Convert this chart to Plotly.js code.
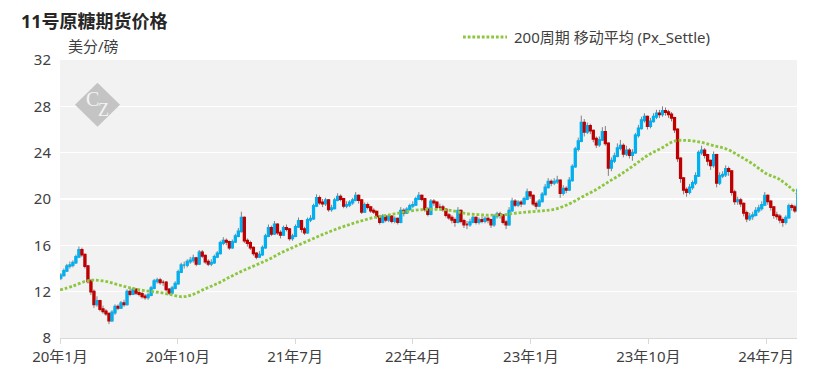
<!DOCTYPE html>
<html>
<head>
<meta charset="utf-8">
<script src="https://cdn.plot.ly/plotly-3.0.1.min.js"></script>
<style>
html,body{margin:0;padding:0;background:#fff;}
#chart{width:822px;height:389px;}
</style>
</head>
<body>
<div id="chart"></div>
<script>
// ---- data (weekly bars, Friday dates starting 2020-01-03) ----
const firstWeek = [2020, 0, 3];
const firstOpen = 13.2;

const close2020 = [13.4,13.8,14.2,14.3,14.5,15.0,15.6,15.2,14.2,12.9,12.0,10.9,11.2,10.5,10.3,10.1,9.5,10.2,10.7,10.6,11.0,10.9,12.0,11.8,12.2,11.9,11.8,11.6,11.5,11.7,12.3,12.9,13.0,12.8,12.8,12.2,11.9,12.3,12.7,13.7,14.3,14.3,14.6,14.7,14.9,14.4,15.4,15.1,14.6,14.4,14.5,15.0];
const high2020  = [13.6,14.0,14.4,14.6,14.7,15.2,15.9,15.8,15.3,14.3,13.1,12.2,11.6,11.3,10.8,10.5,10.2,10.4,10.9,10.9,11.2,11.3,12.2,12.3,12.4,12.3,12.1,12.0,11.8,11.9,12.5,13.1,13.2,13.2,13.0,12.9,12.3,12.5,12.9,13.9,14.5,14.6,14.8,15.0,15.2,15.0,15.6,15.6,15.2,14.8,14.8,15.2];
const low2020   = [13.0,13.3,13.7,14.0,14.1,14.4,14.9,15.0,14.0,12.7,11.7,10.6,10.7,10.3,10.1,9.9,9.2,9.4,10.0,10.4,10.5,10.7,10.8,11.6,11.7,11.7,11.6,11.4,11.3,11.3,11.6,12.2,12.7,12.6,12.5,12.0,11.7,11.8,12.2,12.6,13.6,14.0,14.1,14.4,14.5,14.2,14.3,14.9,14.4,14.2,14.2,14.4];

const close2021 = [15.3,16.2,16.4,16.3,15.8,16.3,16.8,17.2,18.4,16.4,16.2,15.8,15.3,15.0,15.2,15.8,16.8,17.5,17.0,17.8,17.1,16.9,17.5,17.4,16.6,16.8,17.6,18.1,17.4,17.1,18.2,18.3,19.4,20.1,19.7,19.6,19.9,19.1,19.2,19.9,20.2,20.0,19.4,19.5,19.7,19.9,20.3,19.9,18.9,19.5,19.3,19.0,18.9];
const high2021  = [15.5,16.4,16.7,16.6,16.4,16.5,17.0,17.5,18.9,18.5,16.6,16.4,15.9,15.4,15.5,16.0,17.0,17.8,17.7,18.1,17.9,17.3,17.7,17.8,17.5,17.0,17.8,18.4,18.2,17.6,18.4,18.6,19.6,20.4,20.3,20.0,20.1,20.0,19.5,20.1,20.5,20.4,20.1,19.8,19.9,20.1,20.6,20.4,20.0,19.7,19.7,19.4,19.2];
const low2021   = [14.9,15.2,16.0,16.0,15.6,15.7,16.2,16.7,17.1,16.2,15.9,15.6,15.1,14.8,14.9,15.1,15.7,16.7,16.8,16.9,16.9,16.6,16.8,17.2,16.4,16.4,16.7,17.5,17.1,16.9,17.0,18.0,18.2,19.3,19.5,19.3,19.4,18.9,18.9,19.1,19.8,19.8,19.2,19.2,19.3,19.5,19.8,19.6,18.7,18.8,19.1,18.8,18.7];

const close2022 = [18.5,18.0,18.5,18.2,18.5,18.1,18.3,18.0,19.0,18.8,19.1,19.4,19.5,20.0,20.3,20.0,19.1,18.7,19.8,19.7,19.3,19.3,19.1,18.6,18.4,18.2,18.0,19.0,18.1,17.8,17.8,18.0,18.4,18.0,18.2,18.1,18.3,18.2,17.8,18.5,18.7,18.6,18.0,17.8,19.0,19.8,19.5,19.7,19.6,20.0,20.6,20.3];
const high2022  = [19.0,18.6,18.7,18.6,18.7,18.6,18.5,18.4,19.3,19.2,19.3,19.6,19.8,20.2,20.6,20.4,20.1,19.3,20.0,20.0,19.8,19.6,19.5,19.2,18.8,18.6,18.4,19.3,19.1,18.3,18.1,18.3,18.6,18.5,18.4,18.5,18.5,18.5,18.3,18.7,18.9,18.9,18.7,18.2,19.3,20.1,20.0,19.9,19.9,20.2,20.9,20.7];
const low2022   = [18.3,17.8,17.9,18.0,18.0,17.9,17.9,17.8,17.9,18.5,18.7,19.0,19.2,19.4,19.9,19.8,18.9,18.5,18.6,19.4,19.1,19.1,18.9,18.4,18.2,17.9,17.6,17.9,17.9,17.5,17.4,17.6,17.9,17.8,17.8,17.9,17.9,17.9,17.5,17.6,18.3,18.3,17.8,17.4,17.7,18.9,19.3,19.3,19.3,19.5,19.9,20.0];

const close2023 = [19.6,19.4,19.8,20.4,21.0,21.5,21.4,21.5,21.6,20.5,20.9,20.8,21.6,22.8,24.3,25.0,26.6,25.8,26.3,25.9,25.2,24.7,25.1,25.8,24.8,22.7,23.3,23.7,24.4,24.6,23.9,24.2,23.8,24.0,25.5,26.1,26.8,27.1,26.3,26.7,27.1,27.4,27.3,27.6,27.5,27.3,27.0,26.0,23.5,21.8,20.8,20.6];
const high2023  = [20.4,19.8,20.0,20.6,21.3,21.8,21.7,21.8,22.0,21.7,21.2,21.1,21.9,23.0,24.5,25.3,27.2,26.9,26.6,26.5,26.0,25.4,25.4,26.2,26.3,24.9,23.6,24.0,24.8,25.1,24.8,24.6,24.4,24.3,25.7,26.4,27.1,27.4,27.2,27.0,27.4,27.7,27.7,28.0,27.9,27.7,27.5,27.1,26.1,23.6,21.9,21.0];
const low2023   = [19.4,19.1,19.3,19.7,20.3,20.9,21.1,21.2,21.3,20.1,20.3,20.5,20.7,21.5,22.7,24.1,24.9,25.4,25.6,25.6,24.9,24.4,24.5,25.0,24.6,22.0,22.4,23.1,23.6,24.2,23.6,23.7,23.5,23.3,23.9,25.3,26.0,26.6,26.0,26.1,26.6,26.9,27.0,27.1,27.2,27.0,26.7,25.7,23.2,21.4,20.4,20.2];

const close2024 = [21.0,21.4,22.0,24.0,24.2,23.8,23.3,22.9,23.8,21.4,22.0,22.1,22.6,22.4,20.6,19.8,19.9,19.6,18.8,18.3,18.5,18.6,19.0,19.2,19.5,20.3,19.8,19.3,18.6,18.5,18.2,18.0,18.4,19.4,19.3,19.0,20.8];
const high2024  = [21.3,21.6,22.3,24.2,24.6,24.4,23.9,23.4,24.1,23.9,22.3,22.4,22.9,22.8,22.5,20.8,20.2,20.1,19.7,19.0,18.8,18.9,19.3,19.5,19.8,20.6,20.4,19.9,19.4,18.9,18.7,18.4,18.6,19.6,19.6,19.5,21.3];
const low2024   = [20.4,20.8,21.2,21.9,23.8,23.5,22.9,22.5,22.7,21.0,21.2,21.8,21.9,22.0,20.3,19.5,19.5,19.3,18.5,18.0,18.1,18.2,18.5,18.8,19.0,19.4,19.5,19.0,18.3,18.2,17.9,17.6,17.8,18.3,19.0,18.8,18.9];

// 200-period moving average
const maDates = ['2020-01-01','2020-02-01','2020-03-01','2020-03-20','2020-04-15','2020-05-15','2020-06-15','2020-07-15','2020-08-15','2020-09-15','2020-10-10','2020-11-01','2020-12-01',
  '2021-01-01','2021-02-01','2021-03-01','2021-04-01','2021-05-01','2021-06-01','2021-07-01','2021-08-01','2021-09-01','2021-10-01','2021-11-01','2021-12-01',
  '2022-01-01','2022-02-01','2022-03-01','2022-04-01','2022-05-01','2022-06-01','2022-07-01','2022-08-01','2022-09-01','2022-10-01','2022-11-01','2022-12-01',
  '2023-01-01','2023-02-01','2023-03-01','2023-04-01','2023-05-01','2023-06-01','2023-07-01','2023-08-01','2023-09-01','2023-10-01','2023-11-01','2023-12-01',
  '2024-01-01','2024-02-01','2024-03-01','2024-04-01','2024-05-01','2024-06-01','2024-07-01','2024-08-01','2024-09-10'];
const maValues = [12.15,12.5,12.9,13.0,12.9,12.6,12.3,12.1,11.95,11.75,11.56,11.7,12.2,
  12.7,13.3,13.8,14.3,14.8,15.4,15.9,16.4,16.9,17.35,17.75,18.1,
  18.4,18.6,18.8,19.0,19.1,19.1,19.0,18.75,18.65,18.6,18.65,18.8,
  18.9,19.0,19.15,19.6,20.2,20.8,21.5,22.2,23.0,23.8,24.4,25.0,
  25.05,24.9,24.6,24.3,23.7,23.0,22.2,21.7,20.5];

const tickDates = ['2020-01-01','2020-10-01','2021-07-01','2022-04-01','2023-01-01','2023-10-01','2024-07-01'];
const tickLabels = ['20年1月','20年10月','21年7月','22年4月','23年1月','23年10月','24年7月'];

const titleText = '11号原糖期货价格';
const unitText = '美分/磅';
const legendText = '200周期 移动平均 (Px_Settle)';

// ---- assemble ----
const close = [].concat(close2020, close2021, close2022, close2023, close2024);
const high = [].concat(high2020, high2021, high2022, high2023, high2024);
const low = [].concat(low2020, low2021, low2022, low2023, low2024);
const open = [firstOpen].concat(close.slice(0, -1));
const dates = close.map((_, i) => new Date(Date.UTC(firstWeek[0], firstWeek[1], firstWeek[2] + 7 * i)).toISOString().slice(0, 10));
const bodyHigh = close.map((c, i) => Math.max(c, open[i]));
const bodyLow = close.map((c, i) => Math.min(c, open[i]));

const FONT = 'Noto Sans, Noto Sans CJK SC, sans-serif';
const BLUE = '#00b0f0', RED = '#c00000', GREY = '#808080', GREEN = '#8cc63e';

const wicks = {
  type: 'candlestick', x: dates, open: open, high: high, low: low, close: close,
  increasing: {line: {color: GREY, width: 1}, fillcolor: GREY},
  decreasing: {line: {color: GREY, width: 1}, fillcolor: GREY},
  showlegend: false, hoverinfo: 'skip'
};
const bodies = {
  type: 'candlestick', x: dates, open: open, high: bodyHigh, low: bodyLow, close: close,
  increasing: {line: {color: BLUE, width: 1.8}, fillcolor: BLUE},
  decreasing: {line: {color: RED, width: 1.8}, fillcolor: RED},
  showlegend: false
};
const ma = {
  type: 'scatter', mode: 'lines', x: maDates, y: maValues,
  line: {color: GREEN, width: 2.8, dash: '2.8px,1.9px', shape: 'spline'},
  showlegend: false
};

// pixel -> paper helpers for the fixed decorations
const L = 60, R = 797, T = 60, B = 338;
const px = v => (v - L) / (R - L);
const py = v => (B - v) / (B - T);

const layout = {
  width: 822, height: 389,
  margin: {l: L, r: 822 - R, t: T, b: 389 - B},
  paper_bgcolor: '#ffffff', plot_bgcolor: '#f2f2f2',
  font: {family: FONT, size: 15, color: '#404040'},
  title: {text: '<b>' + titleText + '</b>', font: {family: FONT, size: 18, color: '#262626'},
          xref: 'container', yref: 'container', x: 21 / 822, xanchor: 'left', y: 1 - 22 / 389, yanchor: 'middle'},
  xaxis: {
    type: 'date', range: ['2020-01-01', '2024-09-11'],
    rangeslider: {visible: false},
    tickvals: tickDates, ticktext: tickLabels,
    showgrid: false, zeroline: false,
    showline: true, linecolor: '#d9d9d9', linewidth: 1,
    ticks: 'outside', ticklen: 5, tickcolor: '#d9d9d9',
    tickfont: {family: FONT, size: 15, color: '#404040'}
  },
  yaxis: {
    range: [8, 32], tickvals: [8, 12, 16, 20, 24, 28, 32],
    showgrid: true, gridcolor: '#ffffff', gridwidth: 1.5,
    zeroline: false, showline: false, ticks: '', ticklabelstandoff: 8,
    tickfont: {family: FONT, size: 15, color: '#404040'}
  },
  shapes: [
    {type: 'path', xref: 'paper', yref: 'paper', layer: 'above',
     path: 'M' + px(75) + ',' + py(104.7) + ' L' + px(97.5) + ',' + py(82.7) + ' L' + px(120) + ',' + py(104.7) + ' L' + px(97.5) + ',' + py(126.7) + ' Z',
     fillcolor: '#c4c4c4', line: {width: 0}},
    {type: 'line', xref: 'paper', yref: 'paper', x0: px(463), x1: px(507), y0: py(37), y1: py(37),
     line: {color: GREEN, width: 2.8, dash: '2.8px,1.9px'}}
  ],
  annotations: [
    {text: unitText, xref: 'paper', yref: 'paper', x: px(66), y: py(46), xanchor: 'left', yanchor: 'middle',
     showarrow: false, font: {family: FONT, size: 15, color: '#404040'}},
    {text: legendText, xref: 'paper', yref: 'paper', x: px(512), y: py(37), xanchor: 'left', yanchor: 'middle',
     showarrow: false, font: {family: FONT, size: 15, color: '#404040'}},
    {text: 'C', xref: 'paper', yref: 'paper', x: px(92), y: py(99), xanchor: 'center', yanchor: 'middle',
     showarrow: false, font: {family: 'Liberation Serif, serif', size: 20, color: '#f4f4f4'}},
    {text: 'Z', xref: 'paper', yref: 'paper', x: px(103), y: py(110), xanchor: 'center', yanchor: 'middle',
     showarrow: false, font: {family: 'Liberation Serif, serif', size: 18, color: '#f4f4f4'}}
  ],
  hovermode: false
};

Plotly.newPlot('chart', [wicks, bodies, ma], layout, {displayModeBar: false, staticPlot: true});
</script>
</body>
</html>
